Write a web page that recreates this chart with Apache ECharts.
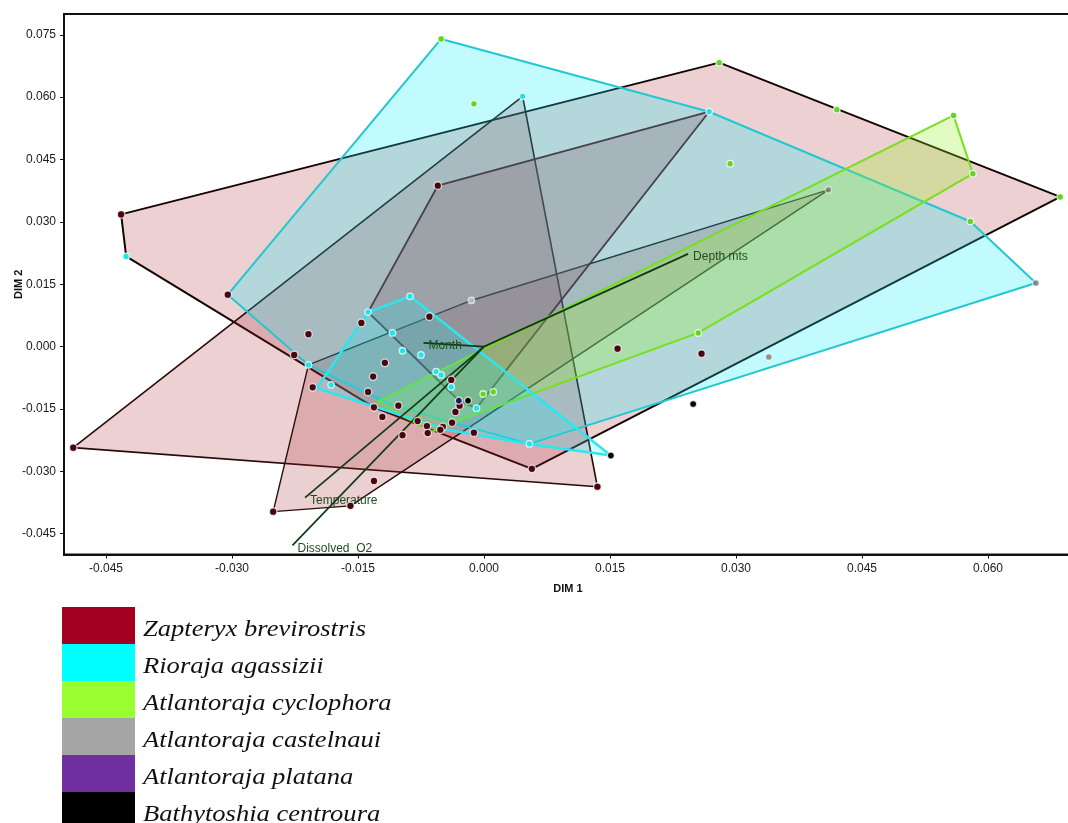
<!DOCTYPE html>
<html>
<head>
<meta charset="utf-8">
<script src="https://cdn.jsdelivr.net/npm/echarts@6/dist/echarts.min.js"></script>
<style>
  html, body { margin: 0; padding: 0; background: #fff; }
  #chart { width: 1068px; height: 823px; }
</style>
</head>
<body>
<div id="chart"></div>
<script>
// ---- axis ticks ----
const xTicks = [-0.045, -0.030, -0.015, 0.000, 0.015, 0.030, 0.045, 0.060];
const yTicks = [-0.045, -0.030, -0.015, 0.000, 0.015, 0.030, 0.045, 0.060, 0.075];

// ---- species (legend order) ----
const species = ['Zapteryx brevirostris', 'Rioraja agassizii', 'Atlantoraja cyclophora',
                 'Atlantoraja castelnaui', 'Atlantoraja platana', 'Bathytoshia centroura'];
const legendColors = ['#a30021', '#00ffff', '#99ff33', '#a6a6a6', '#7030a0', '#000000'];

// ---- nMDS scores per species (DIM 1, DIM 2) ----
const zapteryx = [
  [-0.0432, 0.0318], [-0.0305, 0.0125], [-0.0489, -0.0243], [-0.0251, -0.0397],
  [-0.0159, -0.0383], [-0.0131, -0.0323], [-0.0055, 0.0387], [0.0057, -0.0294],
  [0.0135, -0.0337], [-0.0146, 0.0057], [-0.0209, 0.0030], [-0.0065, 0.0072],
  [-0.0226, -0.0020], [-0.0118, -0.0039], [-0.0132, -0.0072], [-0.0204, -0.0098],
  [-0.0138, -0.0109], [-0.0102, -0.0142], [-0.0131, -0.0146], [-0.0121, -0.0169],
  [-0.0079, -0.0179], [-0.0068, -0.0191], [-0.0067, -0.0208], [-0.0049, -0.0193],
  [-0.0052, -0.0200], [-0.0038, -0.0183], [-0.0034, -0.0157], [-0.0029, -0.0142],
  [-0.0012, -0.0207], [-0.0097, -0.0213], [-0.0039, -0.0080], [0.0159, -0.0005],
  [0.0259, -0.0017]
];
const rioraja = [
  [0.0046, 0.0602], [0.0268, 0.0565], [-0.0426, 0.0217], [-0.0088, 0.0121],
  [-0.0138, 0.0083], [-0.0109, 0.0033], [-0.0097, -0.0010], [-0.0075, -0.0020],
  [-0.0057, -0.0060], [-0.0051, -0.0068], [-0.0039, -0.0097], [-0.0009, -0.0148],
  [0.0054, -0.0234], [-0.0182, -0.0092], [-0.0209, -0.0044]
];
const cyclophora = [
  [-0.0051, 0.0740], [-0.0012, 0.0584], [0.0280, 0.0683], [0.0420, 0.0570],
  [0.0559, 0.0556], [0.0582, 0.0416], [0.0686, 0.0360], [0.0579, 0.0301],
  [0.0293, 0.0440], [0.0255, 0.0033], [-0.0001, -0.0114], [0.0011, -0.0109]
];
const castelnaui = [
  [0.0410, 0.0377], [0.0657, 0.0153], [-0.0015, 0.0111], [0.0339, -0.0025]
];
const platana = [
  [-0.0030, -0.0130]
];
const bathytoshia = [
  [-0.0019, -0.0130], [0.0151, -0.0262], [0.0249, -0.0138]
];

// ---- convex hull outlines (vertex order) ----
const hullA = [[-0.0432, 0.0318], [0.0280, 0.0683], [0.0686, 0.0360], [0.0057, -0.0294],
               [-0.0131, -0.0146], [-0.0426, 0.0217]];
const hullB = [[-0.0489, -0.0243], [0.0046, 0.0602], [0.0135, -0.0337]];
const hullC = [[-0.0209, -0.0044], [-0.0015, 0.0111], [0.0410, 0.0377],
               [-0.0159, -0.0383], [-0.0251, -0.0397]];
const hullD = [[-0.0055, 0.0387], [0.0268, 0.0565], [-0.0009, -0.0148],
               [-0.0030, -0.0130], [-0.0138, 0.0083]];
const hullE = [[-0.0051, 0.0740], [0.0268, 0.0565], [0.0579, 0.0301], [0.0657, 0.0153],
               [0.0054, -0.0234], [-0.0041, -0.0181], [-0.0112, -0.0138],
               [-0.0209, -0.0044], [-0.0305, 0.0125]];
const hullF = [[-0.0127, -0.0133], [0.0559, 0.0556], [0.0582, 0.0416], [0.0255, 0.0033],
               [-0.0037, -0.0183], [-0.0062, -0.0205]];
const hullG = [[-0.0088, 0.0121], [0.0151, -0.0262], [0.0054, -0.0234],
               [-0.0044, -0.0200], [-0.0199, -0.0100], [-0.0138, 0.0083]];

// ---- environmental vectors ----
const vectorNames = ['Depth mts', 'Month', 'Temperature', 'Dissolved  O2'];
const vectorEnds = [[0.0243, 0.0223], [-0.0072, 0.0009], [-0.0213, -0.0363], [-0.0228, -0.0478]];

// ---- drawing ----
const chart = echarts.init(document.getElementById('chart'), null, { renderer: 'canvas' });

function hullSeries(pts, stroke, fill, width, z) {
  return {
    type: 'custom',
    silent: true,
    z: z,
    clip: true,
    data: pts,
    renderItem: function (params, api) {
      if (params.dataIndex !== 0) return;
      const points = pts.map(function (p) { return api.coord(p); });
      return {
        type: 'polygon',
        shape: { points: points },
        style: { fill: fill, stroke: stroke, lineWidth: width, lineJoin: 'round' }
      };
    }
  };
}

function pointSeries(name, pts, color, size) {
  return {
    type: 'scatter',
    name: name,
    data: pts,
    symbol: 'circle',
    symbolSize: size,
    z: 6,
    silent: true,
    itemStyle: {
      color: color,
      borderColor: 'rgba(255,255,255,0.75)',
      borderWidth: 1.3,
      opacity: 1
    }
  };
}

const vectorData = vectorEnds.map(function (v, i) { return [v[0], v[1], vectorNames[i]]; });

// species key below the plot: colour swatch + italic name per row
const keyRowHeight = 37;
const keyElements = [];
species.forEach(function (n, i) {
  keyElements.push({
    type: 'rect', silent: true,
    x: 62, y: 607 + i * keyRowHeight,
    shape: { x: 0, y: 0, width: 73, height: keyRowHeight },
    style: { fill: legendColors[i] }
  });
  keyElements.push({
    type: 'text', silent: true,
    x: 143, y: 629.5 + i * keyRowHeight,
    scaleX: 1.13,
    style: { text: n, font: 'italic 23.5px "Liberation Serif"', fill: '#111',
             verticalAlign: 'middle', align: 'left' }
  });
});

const tickLabelStyle = { fontFamily: 'Liberation Sans', fontSize: 12, color: '#1a1a1a' };
const axisNameStyle = { fontFamily: 'Liberation Sans', fontWeight: 'bold', fontSize: 11, color: '#111' };

const option = {
  backgroundColor: '#ffffff',
  animation: false,
  grid: {
    left: 64, right: -4, top: 14, bottom: 268.5,
    outerBoundsMode: 'none',
    containLabel: false,
    show: true, borderColor: '#111', borderWidth: 2, backgroundColor: 'transparent'
  },
  xAxis: {
    type: 'value',
    min: -0.05, max: 0.07,
    name: 'DIM 1',
    nameLocation: 'middle',
    nameGap: 29,
    nameMoveOverlap: false,
    nameTextStyle: axisNameStyle,
    axisLine: { show: true, onZero: false, lineStyle: { color: '#111', width: 2 } },
    axisTick: { show: true, customValues: xTicks, length: 4, inside: false, lineStyle: { color: '#111', width: 1 } },
    axisLabel: Object.assign({
      customValues: xTicks, margin: 8,
      formatter: function (v) { return v.toFixed(3); }
    }, tickLabelStyle),
    splitLine: { show: false }
  },
  yAxis: {
    type: 'value',
    min: -0.05, max: 0.08,
    name: 'DIM 2',
    nameLocation: 'middle',
    nameGap: 40,
    nameRotate: 90,
    nameMoveOverlap: false,
    nameTextStyle: axisNameStyle,
    axisLine: { show: true, onZero: false, lineStyle: { color: '#111', width: 2 } },
    axisTick: { show: true, customValues: yTicks, length: 4, lineStyle: { color: '#111', width: 1 } },
    axisLabel: Object.assign({
      customValues: yTicks, margin: 8,
      formatter: function (v) { return v.toFixed(3); }
    }, tickLabelStyle),
    splitLine: { show: false }
  },
  graphic: { elements: keyElements },
  series: [
    hullSeries(hullA, '#140505', 'rgba(170,40,50,0.22)', 2, 1),
    hullSeries(hullB, '#2a0a0a', 'rgba(170,40,50,0.22)', 1.6, 1),
    hullSeries(hullC, '#2a0c0c', 'rgba(160,40,45,0.22)', 1.4, 1),
    hullSeries(hullD, '#5c0c16', 'rgba(175,60,70,0.30)', 1.8, 2),
    hullSeries(hullE, '#22c8d0', 'rgba(0,240,250,0.24)', 2, 2),
    hullSeries(hullF, '#77e01a', 'rgba(150,240,40,0.28)', 2, 3),
    hullSeries(hullG, '#2ae6ee', 'rgba(0,240,250,0.20)', 2.5, 3),
    {
      type: 'custom',
      silent: true,
      z: 5,
      data: vectorData,
      renderItem: function (params, api) {
        const p0 = api.coord([0, 0]);
        const p1 = api.coord([api.value(0), api.value(1)]);
        return {
          type: 'group',
          children: [
            { type: 'line', shape: { x1: p0[0], y1: p0[1], x2: p1[0], y2: p1[1] },
              style: { stroke: '#123a12', lineWidth: 1.7 } },
            { type: 'text', x: p1[0] + 5, y: p1[1] + 3,
              style: { text: api.value(2), fill: '#1d4d1d', font: '12px "Liberation Sans"',
                       verticalAlign: 'middle', align: 'left' } }
          ]
        };
      }
    },
    pointSeries(species[0], zapteryx, '#4a0610', 7.5),
    pointSeries(species[1], rioraja, '#1ee4ee', 6.5),
    pointSeries(species[2], cyclophora, '#62d61e', 6.5),
    Object.assign(pointSeries(species[3], castelnaui, '#7a7a7a', 6.5), {
      itemStyle: {
        color: function (p) { return p.dataIndex === 2 ? '#c8d2c8' : '#7a7a7a'; },
        borderColor: 'rgba(255,255,255,0.75)', borderWidth: 1.3
      }
    }),
    pointSeries(species[4], platana, '#1c1c5c', 7),
    pointSeries(species[5], bathytoshia, '#050505', 7)
  ]
};

chart.setOption(option);
</script>
</body>
</html>
